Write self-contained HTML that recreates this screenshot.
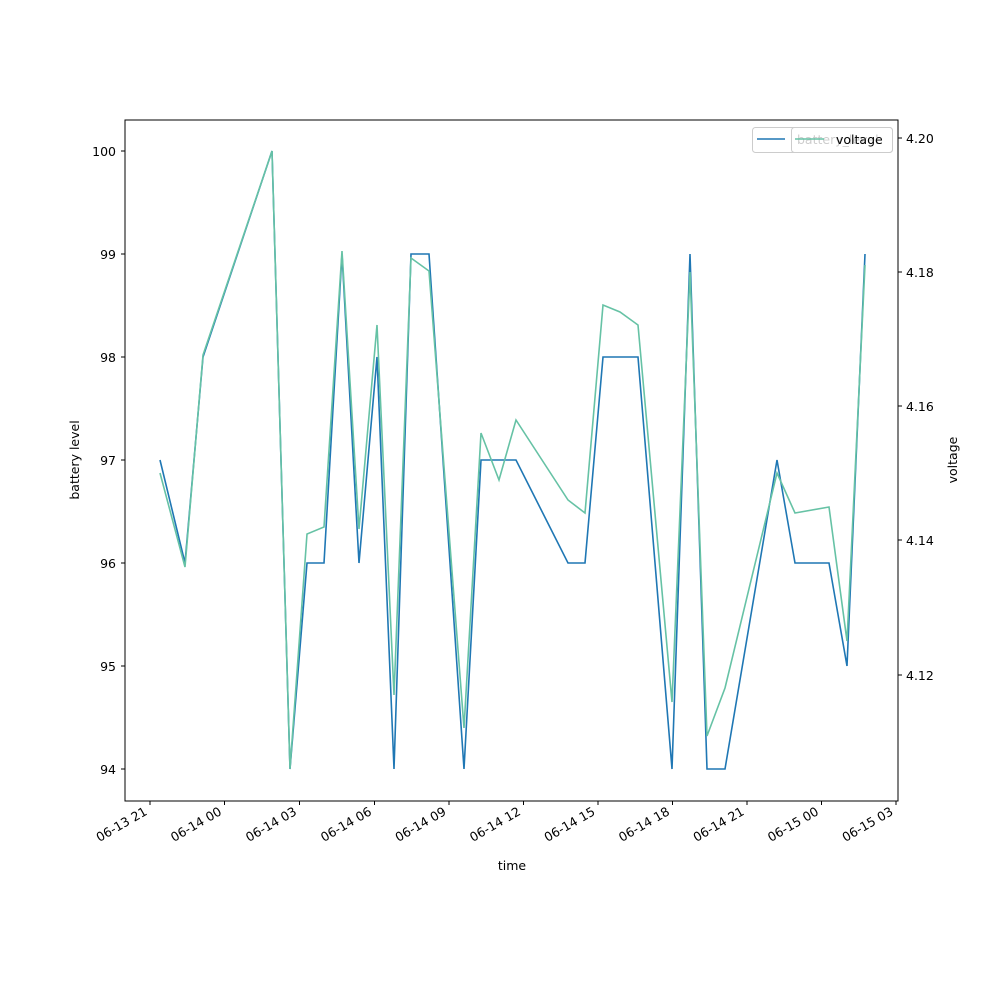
<!DOCTYPE html>
<html><head><meta charset="utf-8"><style>body{margin:0;background:#fff}svg{display:block}</style></head><body>
<svg width="1000" height="1000" xmlns="http://www.w3.org/2000/svg" font-family="DejaVu Sans, Liberation Sans, sans-serif" font-size="12.5">
<rect width="1000" height="1000" fill="#fff"/>
<polyline fill="none" stroke="#1f77b4" stroke-width="1.6" points="160,460 185,563 203,357 272,151 290,769 307,563 324,563 342,254 359,563 377,357 394,769 411,254 429,254 464,769 481,460 516,460 568,563 585,563 603,357 638,357 672,769 690,254 707,769 725,769 777,460 795,563 829,563 847,666 865,254"/>
<polyline fill="none" stroke="#66c2a5" stroke-width="1.6" points="160,473 185,567 203,355 272,151 290,769 307,534 324,527 342,251 359,529 377,325 394,695 411,258 429,271 464,728 481,433 499,480 516,420 568,500 585,513 603,305 620,312 638,325 672,702 690,272 707,736 725,688 777,473 795,513 829,507 847,641 865,265"/>
<rect x="125" y="120" width="773" height="681" fill="none" stroke="#000" stroke-width="1"/>
<g stroke="#000">
<line x1="125" y1="151" x2="121" y2="151"/><line x1="125" y1="254" x2="121" y2="254"/><line x1="125" y1="357" x2="121" y2="357"/><line x1="125" y1="460" x2="121" y2="460"/><line x1="125" y1="563" x2="121" y2="563"/><line x1="125" y1="666" x2="121" y2="666"/><line x1="125" y1="769" x2="121" y2="769"/>
<line x1="898" y1="138" x2="902" y2="138"/><line x1="898" y1="272" x2="902" y2="272"/><line x1="898" y1="406" x2="902" y2="406"/><line x1="898" y1="540" x2="902" y2="540"/><line x1="898" y1="675" x2="902" y2="675"/>
<line x1="150" y1="801" x2="150" y2="805"/><line x1="224.5" y1="801" x2="224.5" y2="805"/><line x1="299.5" y1="801" x2="299.5" y2="805"/><line x1="374.5" y1="801" x2="374.5" y2="805"/><line x1="449" y1="801" x2="449" y2="805"/><line x1="523.5" y1="801" x2="523.5" y2="805"/><line x1="598" y1="801" x2="598" y2="805"/><line x1="672.5" y1="801" x2="672.5" y2="805"/><line x1="747" y1="801" x2="747" y2="805"/><line x1="821.5" y1="801" x2="821.5" y2="805"/><line x1="896" y1="801" x2="896" y2="805"/>
</g>
<g text-anchor="end" fill="#000">
<text x="116" y="156">100</text><text x="116" y="259">99</text><text x="116" y="362">98</text><text x="116" y="465">97</text><text x="116" y="568">96</text><text x="116" y="671">95</text><text x="116" y="774">94</text>
</g>
<g fill="#000">
<text x="906" y="143">4.20</text><text x="906" y="277">4.18</text><text x="906" y="411">4.16</text><text x="906" y="545">4.14</text><text x="906" y="680">4.12</text>
</g>
<g text-anchor="end" fill="#000">
<text transform="translate(148,814) rotate(-30)">06-13 21</text>
<text transform="translate(222.5,814) rotate(-30)">06-14 00</text>
<text transform="translate(297.5,814) rotate(-30)">06-14 03</text>
<text transform="translate(372.5,814) rotate(-30)">06-14 06</text>
<text transform="translate(447,814) rotate(-30)">06-14 09</text>
<text transform="translate(521.5,814) rotate(-30)">06-14 12</text>
<text transform="translate(596,814) rotate(-30)">06-14 15</text>
<text transform="translate(670.5,814) rotate(-30)">06-14 18</text>
<text transform="translate(745,814) rotate(-30)">06-14 21</text>
<text transform="translate(819.5,814) rotate(-30)">06-15 00</text>
<text transform="translate(894,814) rotate(-30)">06-15 03</text>
</g>
<text x="512" y="870" text-anchor="middle">time</text>
<text transform="translate(79,460) rotate(-90)" text-anchor="middle">battery level</text>
<text transform="translate(957,460) rotate(-90)" text-anchor="middle">voltage</text>
<rect x="752.5" y="127.5" width="140" height="25" rx="3" fill="#fff" fill-opacity="0.8" stroke="#ccc"/>
<line x1="757" y1="139" x2="785" y2="139" stroke="#1f77b4" stroke-width="1.6"/>
<text x="797" y="144" fill="#000">battery_level</text>
<rect x="791.5" y="127.5" width="101" height="25" rx="3" fill="#fff" fill-opacity="0.8" stroke="#ccc"/>
<line x1="795" y1="139" x2="824" y2="139" stroke="#66c2a5" stroke-width="1.6"/>
<text x="836" y="144" fill="#000">voltage</text>
</svg>
</body></html>
